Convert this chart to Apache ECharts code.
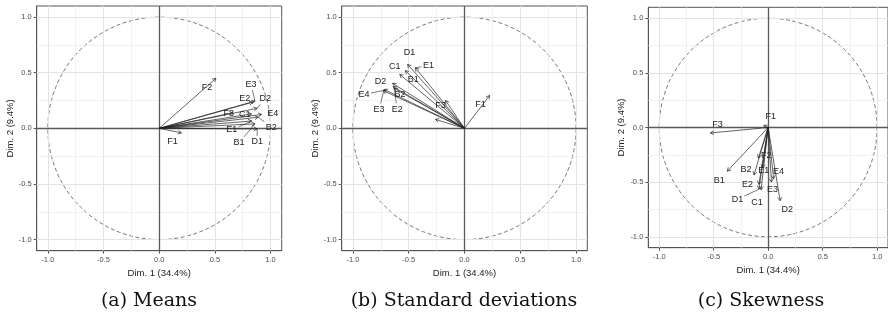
<!DOCTYPE html>
<html>
<head>
<meta charset="utf-8">
<script src="https://cdn.jsdelivr.net/npm/echarts@6/dist/echarts.min.js"></script>
<style>
  html, body { margin: 0; padding: 0; background: #fff; }
  #main { width: 888px; height: 321px; }
</style>
</head>
<body>
<div id="main"></div>
<script>
var varNames = ['B1', 'B2', 'C1', 'D1', 'D2', 'E1', 'E2', 'E3', 'E4', 'F1', 'F2', 'F3'];
// coordinates of variables (Dim.1, Dim.2)
var meansX = [0.86, 0.89, 0.83, 0.88, 0.88, 0.83, 0.84, 0.86, 0.92, 0.20, 0.51, 0.66];
var meansY = [0.04, 0.10, 0.13, -0.005, 0.18, 0.066, 0.235, 0.245, 0.125, -0.04, 0.45, 0.14];
var sdX = [-0.53, -0.64, -0.58, -0.51, -0.645, -0.44, -0.63, -0.72, -0.73, 0.225, -0.26, -0.17];
var sdY = [0.52, 0.375, 0.485, 0.575, 0.405, 0.545, 0.36, 0.35, 0.34, 0.296, 0.08, 0.25];
var skewX = [-0.375, -0.13, -0.065, -0.085, 0.11, -0.05, -0.085, 0.03, 0.05, -0.04, -0.09, -0.53];
var skewY = [-0.40, -0.435, -0.57, -0.565, -0.67, -0.37, -0.52, -0.50, -0.47, 0.02, -0.28, -0.05];
var tickValues = [-1, -0.5, 0, 0.5, 1];
var minorValues = [-0.75, -0.25, 0.25, 0.75];
var captions = ['(a) Means', '(b) Standard deviations', '(c) Skewness'];

// label placement (pixel offset from arrow tip, leader line flag) - layout only
var meansLab = [[-16, 19, 1], [13, 10, 1], [-7, 1], [0, 13, 1], [8, -10, 1], [-20, 9, 1],
                [-8, -4], [-4, -17, 1], [11, -1], [-9, 9], [-9, 9], [-4, 1]];
var sdLab = [[8, 9], [7, 8], [-5, -8], [2, -12], [-12, -2], [13, -2, 1],
             [3, 21, 1], [-5, 20, 1], [-19, 4, 1], [-9, 9], null, [-5, 5]];
var skewLab = [[-8, 9.5], [-8, -6], [-4, 12.5], [-21.5, 10, 1], [7, 9], [1, 3],
               [-11.5, 0], [1, 7], [5, -7], [7, -9], [8, -3], [7, -8]];

var font = '"Liberation Sans", Arial, sans-serif';
var myChart = echarts.init(document.getElementById('main'));

var grids = [
  { left: 36.7, top: 6, width: 245, height: 244.7 },
  { left: 341.7, top: 6, width: 245.6, height: 244.7 },
  { left: 648.3, top: 7.3, width: 240.5, height: 240.4 }
];
var capX = [149, 464, 761];

var circle = [];
for (var k = 0; k <= 200; k++) {
  var t = k / 200 * Math.PI * 2;
  circle.push([Math.cos(t), Math.sin(t)]);
}

function gridLines(i) {
  var d = [];
  minorValues.forEach(function (v) {
    d.push({ xAxis: v, lineStyle: { color: '#eeeeee', width: 0.8, type: 'solid' } });
    d.push({ yAxis: v, lineStyle: { color: '#eeeeee', width: 0.8, type: 'solid' } });
  });
  tickValues.forEach(function (v) {
    if (v === 0) return;
    d.push({ xAxis: v, lineStyle: { color: '#e4e4e4', width: 1, type: 'solid' } });
    d.push({ yAxis: v, lineStyle: { color: '#e4e4e4', width: 1, type: 'solid' } });
  });
  d.push({ xAxis: 0, lineStyle: { color: '#5a5a5a', width: 1.3, type: 'solid' } });
  d.push({ yAxis: 0, lineStyle: { color: '#5a5a5a', width: 1.3, type: 'solid' } });
  return {
    type: 'line', xAxisIndex: i, yAxisIndex: i, data: [], z: 1,
    markLine: { silent: true, symbol: 'none', label: { show: false }, data: d, animation: false }
  };
}

function circleSeries(i) {
  return {
    type: 'line', xAxisIndex: i, yAxisIndex: i, data: circle, z: 2,
    showSymbol: false, silent: true,
    lineStyle: { color: '#555', width: 0.8, type: [4, 2.5] }
  };
}

function vectorSeries(i, xs, ys, lab) {
  var data = xs.map(function (x, j) { return [x, ys[j], j]; });
  return {
    type: 'custom', xAxisIndex: i, yAxisIndex: i, z: 5, clip: false,
    data: data,
    renderItem: function (params, api) {
      var j = api.value(2);
      var o = api.coord([0, 0]);
      var p = api.coord([api.value(0), api.value(1)]);
      var ang = Math.atan2(p[1] - o[1], p[0] - o[0]);
      var h = 4, a = Math.PI / 6;
      var kids = [
        { type: 'line', shape: { x1: o[0], y1: o[1], x2: p[0], y2: p[1] },
          style: { stroke: '#222', lineWidth: 0.7 } },
        { type: 'polyline', shape: { points: [
            [p[0] - h * Math.cos(ang - a), p[1] - h * Math.sin(ang - a)], p,
            [p[0] - h * Math.cos(ang + a), p[1] - h * Math.sin(ang + a)]] },
          style: { stroke: '#222', lineWidth: 0.7, fill: null } }
      ];
      var l = lab[j];
      if (l) {
        var tx = p[0] + l[0], ty = p[1] + l[1];
        if (l[2]) {
          var dx = p[0] - tx, dy = p[1] - ty;
          var s = 1 / Math.max(Math.abs(dx) / 7, Math.abs(dy) / 6);
          kids.push({ type: 'line', shape: { x1: tx + dx * s, y1: ty + dy * s, x2: p[0], y2: p[1] },
            style: { stroke: '#222', lineWidth: 0.6 } });
        }
        kids.push({ type: 'text', x: tx, y: ty,
          style: { text: varNames[j], fill: '#222', font: '9px ' + font,
                   align: 'center', verticalAlign: 'middle' } });
      }
      return { type: 'group', children: kids };
    }
  };
}

var xAxes = [], yAxes = [], titles = [];
grids.forEach(function (g, i) {
  g.show = true;
  g.borderColor = '#555';
  g.borderWidth = 1;
  g.backgroundColor = '#fff';
  xAxes.push({
    gridIndex: i, type: 'value', min: -1.1, max: 1.1,
    splitLine: { show: false },
    axisLine: { show: true, onZero: false, lineStyle: { color: '#555' } },
    axisTick: { show: true, customValues: tickValues, length: 3, lineStyle: { color: '#555' } },
    axisLabel: { customValues: tickValues, fontSize: 7.5, color: '#4d4d4d', margin: 5, fontFamily: font,
      formatter: function (v) { return v.toFixed(1); } },
    name: 'Dim. 1 (34.4%)', nameLocation: 'middle', nameGap: 16,
    nameTextStyle: { fontSize: 9.5, color: '#222', fontFamily: font }
  });
  yAxes.push({
    gridIndex: i, type: 'value', min: -1.1, max: 1.1,
    splitLine: { show: false },
    axisLine: { show: true, onZero: false, lineStyle: { color: '#555' } },
    axisTick: { show: true, customValues: tickValues, length: 3, lineStyle: { color: '#555' } },
    axisLabel: { customValues: tickValues, fontSize: 7.5, color: '#4d4d4d', margin: 5, fontFamily: font,
      formatter: function (v) { return v.toFixed(1); } },
    name: 'Dim. 2 (9.4%)', nameLocation: 'middle', nameGap: 20,
    nameTextStyle: { fontSize: 9.5, color: '#222', fontFamily: font }
  });
  titles.push({
    text: captions[i], left: capX[i], top: 292, textAlign: 'center', padding: 0,
    textStyle: { fontFamily: '"DejaVu Serif", serif', fontSize: 19, fontWeight: 'normal', color: '#111' }
  });
});

var series = [];
[[meansX, meansY, meansLab], [sdX, sdY, sdLab], [skewX, skewY, skewLab]].forEach(function (s, i) {
  series.push(gridLines(i));
  series.push(circleSeries(i));
  series.push(vectorSeries(i, s[0], s[1], s[2]));
});

var option = {
  animation: false,
  backgroundColor: '#fff',
  title: titles,
  grid: grids,
  xAxis: xAxes,
  yAxis: yAxes,
  series: series
};
myChart.setOption(option);
window.addEventListener('resize', function () {
  myChart.resize();
});
</script>
</body>
</html>
